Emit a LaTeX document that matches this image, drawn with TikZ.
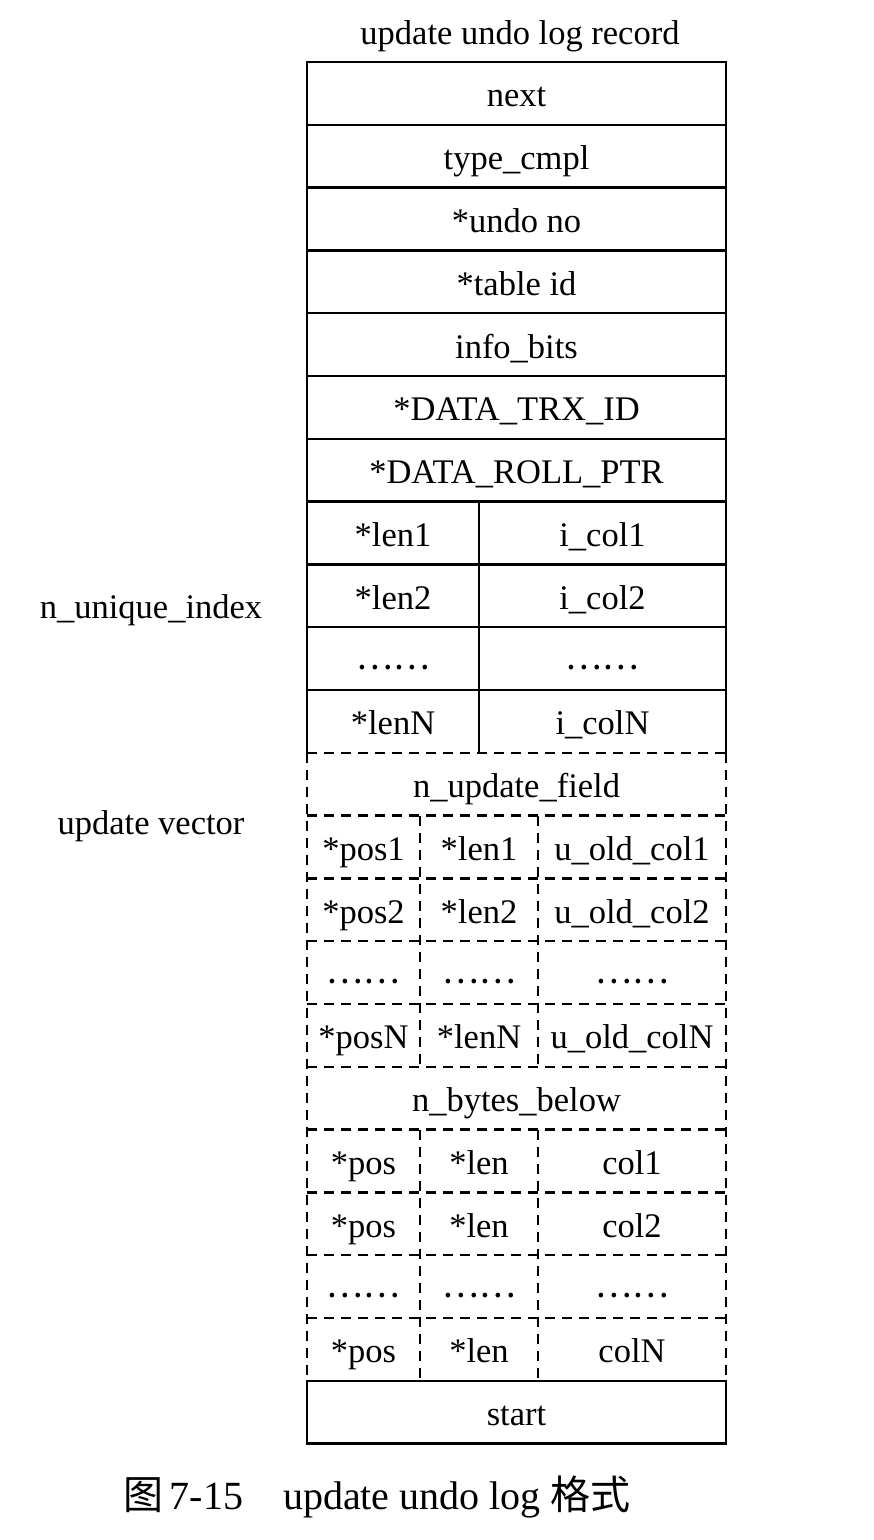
\documentclass[tikz,border=0pt]{standalone}
\usepackage{fontspec}
\setmainfont{Liberation Serif}
\newfontfamily\cjk{Noto Sans CJK SC}
\tikzset{
  cell/.style={inner sep=0pt, font=\fontsize{34.5}{40}\selectfont, text height=23pt, text depth=8pt, anchor=center, yshift=-6pt},
  dotcell/.style={inner sep=0pt, font=\fontsize{34.5}{40}\selectfont, anchor=center, yshift=-9pt},
  lbl/.style={inner sep=0pt, font=\fontsize{34.5}{40}\selectfont, text height=23pt, text depth=8pt, anchor=center, yshift=-4pt},
  solidline/.style={line width=2.4pt, line cap=rect},
  dashline/.style={line width=2.4pt, dash pattern=on 10pt off 7pt},
}
\newcommand{\dotsrow}{{\cjk ……}}
\begin{document}
\begin{tikzpicture}[x=1pt,y=-1pt]
\useasboundingbox (0,0) rectangle (874,1540);
% geometry
\def\xL{307}\def\xR{726}\def\rh{62.8}\def\ytop{62}
\def\xa{479}\def\xb{420}\def\xc{538}
% row boundary coordinates
\foreach \k in {0,...,22}{
  \coordinate (l\k) at (\xL,\ytop+\k*\rh);
  \coordinate (r\k) at (\xR,\ytop+\k*\rh);
  \coordinate (a\k) at (\xa,\ytop+\k*\rh);
  \coordinate (b\k) at (\xb,\ytop+\k*\rh);
  \coordinate (c\k) at (\xc,\ytop+\k*\rh);
}
% solid upper part
\draw[solidline] (l11) -- (l0) -- (r0) -- (r11);
\foreach \k in {1,...,10}{ \draw[solidline] (l\k) -- (r\k); }
\draw[solidline] (a7) -- (a11);
% dashed part
\foreach \k in {11,...,20}{ \draw[dashline] (l\k) -- (r\k); }
\draw[dashline] (l11) -- (l21);
\draw[dashline] (r11) -- (r21);
\draw[dashline] (b12) -- (b16);
\draw[dashline] (c12) -- (c16);
\draw[dashline] (b17) -- (b21);
\draw[dashline] (c17) -- (c21);
% start box
\draw[solidline] (l21) rectangle (r22);

% title
\node[lbl] (title) at (520,33) {update undo log record};

% full-width rows
\def\rowmid#1{\ytop+#1*\rh+0.5*\rh}
\node[cell] (next) at ({(\xL+\xR)/2},{\rowmid{0}}) {next};
\node[cell] (type) at ({(\xL+\xR)/2},{\rowmid{1}}) {type\_cmpl};
\node[cell] (undono) at ({(\xL+\xR)/2},{\rowmid{2}}) {*undo no};
\node[cell] (tableid) at ({(\xL+\xR)/2},{\rowmid{3}}) {*table id};
\node[cell] (info) at ({(\xL+\xR)/2},{\rowmid{4}}) {info\_bits};
\node[cell] (trx) at ({(\xL+\xR)/2},{\rowmid{5}}) {*DATA\_TRX\_ID};
\node[cell] (roll) at ({(\xL+\xR)/2},{\rowmid{6}}) {*DATA\_ROLL\_PTR};

% unique index rows
\node[cell] (len1) at ({(\xL+\xa)/2},{\rowmid{7}}) {*len1};
\node[cell] (icol1) at ({(\xa+\xR)/2},{\rowmid{7}}) {i\_col1};
\node[cell] (len2) at ({(\xL+\xa)/2},{\rowmid{8}}) {*len2};
\node[cell] (icol2) at ({(\xa+\xR)/2},{\rowmid{8}}) {i\_col2};
\node[dotcell] (idotsA) at ({(\xL+\xa)/2},{\rowmid{9}}) {\dotsrow};
\node[dotcell] (idotsB) at ({(\xa+\xR)/2},{\rowmid{9}}) {\dotsrow};
\node[cell] (lenN) at ({(\xL+\xa)/2},{\rowmid{10}}) {*lenN};
\node[cell] (icolN) at ({(\xa+\xR)/2},{\rowmid{10}}) {i\_colN};

% update vector
\node[cell] (nupd) at ({(\xL+\xR)/2},{\rowmid{11}}) {n\_update\_field};
\node[cell] (pos1) at ({(\xL+\xb)/2},{\rowmid{12}}) {*pos1};
\node[cell] (ulen1) at ({(\xb+\xc)/2},{\rowmid{12}}) {*len1};
\node[cell] (uold1) at ({(\xc+\xR)/2},{\rowmid{12}}) {u\_old\_col1};
\node[cell] (pos2) at ({(\xL+\xb)/2},{\rowmid{13}}) {*pos2};
\node[cell] (ulen2) at ({(\xb+\xc)/2},{\rowmid{13}}) {*len2};
\node[cell] (uold2) at ({(\xc+\xR)/2},{\rowmid{13}}) {u\_old\_col2};
\node[dotcell] (udotsA) at ({(\xL+\xb)/2},{\rowmid{14}}) {\dotsrow};
\node[dotcell] (udotsB) at ({(\xb+\xc)/2},{\rowmid{14}}) {\dotsrow};
\node[dotcell] (udotsC) at ({(\xc+\xR)/2},{\rowmid{14}}) {\dotsrow};
\node[cell] (posN) at ({(\xL+\xb)/2},{\rowmid{15}}) {*posN};
\node[cell] (ulenN) at ({(\xb+\xc)/2},{\rowmid{15}}) {*lenN};
\node[cell] (uoldN) at ({(\xc+\xR)/2},{\rowmid{15}}) {u\_old\_colN};

% bytes below
\node[cell] (nbytes) at ({(\xL+\xR)/2},{\rowmid{16}}) {n\_bytes\_below};
\node[cell] (bpos1) at ({(\xL+\xb)/2},{\rowmid{17}}) {*pos};
\node[cell] (blen1) at ({(\xb+\xc)/2},{\rowmid{17}}) {*len};
\node[cell] (bcol1) at ({(\xc+\xR)/2},{\rowmid{17}}) {col1};
\node[cell] (bpos2) at ({(\xL+\xb)/2},{\rowmid{18}}) {*pos};
\node[cell] (blen2) at ({(\xb+\xc)/2},{\rowmid{18}}) {*len};
\node[cell] (bcol2) at ({(\xc+\xR)/2},{\rowmid{18}}) {col2};
\node[dotcell] (bdotsA) at ({(\xL+\xb)/2},{\rowmid{19}}) {\dotsrow};
\node[dotcell] (bdotsB) at ({(\xb+\xc)/2},{\rowmid{19}}) {\dotsrow};
\node[dotcell] (bdotsC) at ({(\xc+\xR)/2},{\rowmid{19}}) {\dotsrow};
\node[cell] (bposN) at ({(\xL+\xb)/2},{\rowmid{20}}) {*pos};
\node[cell] (blenN) at ({(\xb+\xc)/2},{\rowmid{20}}) {*len};
\node[cell] (bcolN) at ({(\xc+\xR)/2},{\rowmid{20}}) {colN};
\node[cell] (start) at ({(\xL+\xR)/2},{\rowmid{21}}) {start};

% side labels
\node[lbl] (nuniq) at (151,607) {n\_unique\_index};
\node[lbl] (uvec) at (151,823) {update vector};

% caption
\node[inner sep=0pt, font=\fontsize{40}{44}\selectfont] (caption) at (377,1497)
  {{\cjk 图}\,7-15\hspace{1em}update undo log {\cjk 格式}};
\end{tikzpicture}
\end{document}
